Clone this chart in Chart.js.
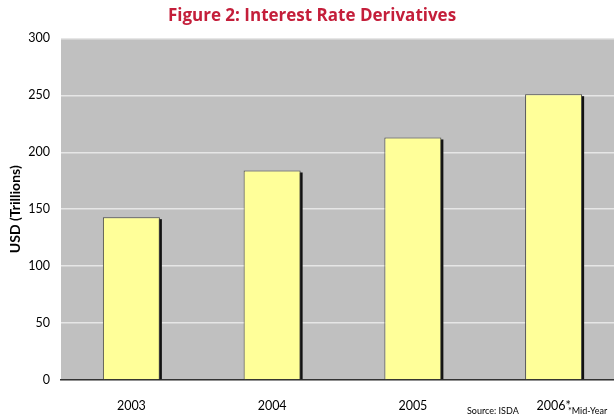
<!DOCTYPE html>
<html>
<head>
<meta charset="utf-8">
<script src="https://cdn.jsdelivr.net/npm/chart.js@4"></script>
<style>
  html, body { margin: 0; padding: 0; background: #fff; overflow: hidden; }
  #wrap { width: 624px; height: 418px; }
</style>
</head>
<body>
<div id="wrap"><canvas id="chart" width="624" height="418"></canvas></div>
<script>
// data
const years = ['2003', '2004', '2005', '2006*'];
const notional = [143, 184, 213, 251];
const yTicks = [0, 50, 100, 150, 200, 250, 300];

const FONT = 'Lato, "Open Sans", sans-serif';

// grey plot background
const plotBg = {
  id: 'plotBg',
  beforeDraw(chart) {
    const { ctx, chartArea: a } = chart;
    ctx.save();
    ctx.fillStyle = '#c0c0c0';
    ctx.fillRect(a.left, a.top, a.right - a.left, a.bottom - a.top);
    ctx.restore();
  }
};

// dark drop shadow on the right of each bar
const barShadow = {
  id: 'barShadow',
  beforeDatasetsDraw(chart) {
    const { ctx } = chart;
    ctx.save();
    ctx.fillStyle = '#111';
    chart.getDatasetMeta(0).data.forEach(bar => {
      const half = bar.width / 2;
      ctx.fillRect(bar.x - half + 2, bar.y + 2, bar.width, bar.base - bar.y - 2);
    });
    ctx.restore();
  }
};

// footnotes
const notes = {
  id: 'notes',
  afterDraw(chart) {
    const { ctx } = chart;
    ctx.save();
    ctx.fillStyle = '#000';
    ctx.font = '9px ' + FONT;
    ctx.textBaseline = 'middle';
    ctx.textAlign = 'left';
    ctx.fillText('Source: ISDA', 467, 411);
    ctx.fillText('*Mid-Year', 568, 411);
    ctx.restore();
  }
};

new Chart(document.getElementById('chart'), {
  type: 'bar',
  data: {
    labels: years,
    datasets: [{
      data: notional,
      backgroundColor: '#ffff99',
      borderColor: '#444',
      borderWidth: 1,
      borderSkipped: 'bottom',
      barPercentage: 0.405,
      categoryPercentage: 1
    }]
  },
  options: {
    responsive: false,
    animation: false,
    layout: { padding: 0 },
    plugins: {
      legend: { display: false },
      tooltip: { enabled: false },
      title: {
        display: true,
        text: 'Figure 2: Interest Rate Derivatives',
        color: '#c41e3a',
        font: { family: '"Open Sans", sans-serif', size: 17, weight: 'bold' },
        padding: { top: 6, bottom: 12 }
      }
    },
    scales: {
      x: {
        grid: { display: false, drawTicks: false },
        border: { display: true, color: '#333', width: 1.5 },
        ticks: { color: '#000', font: { family: FONT, size: 12.5 }, padding: 18 },
        afterFit(s) { s.height = 38; }
      },
      y: {
        min: 0,
        max: 300,
        afterBuildTicks(s) { s.ticks = yTicks.map(v => ({ value: v })); },
        grid: { color: '#e6e6e6', lineWidth: 1.5, drawTicks: false },
        border: { display: false },
        ticks: { color: '#000', font: { family: FONT, size: 12.5 }, padding: 11 },
        title: {
          display: true,
          text: 'USD (Trillions)',
          color: '#000',
          font: { family: FONT, size: 14, weight: 'bold' },
          padding: { top: 7, bottom: 0 }
        },
        afterFit(s) { s.width = 61; }
      }
    }
  },
  plugins: [plotBg, barShadow, notes]
});
</script>
</body>
</html>
